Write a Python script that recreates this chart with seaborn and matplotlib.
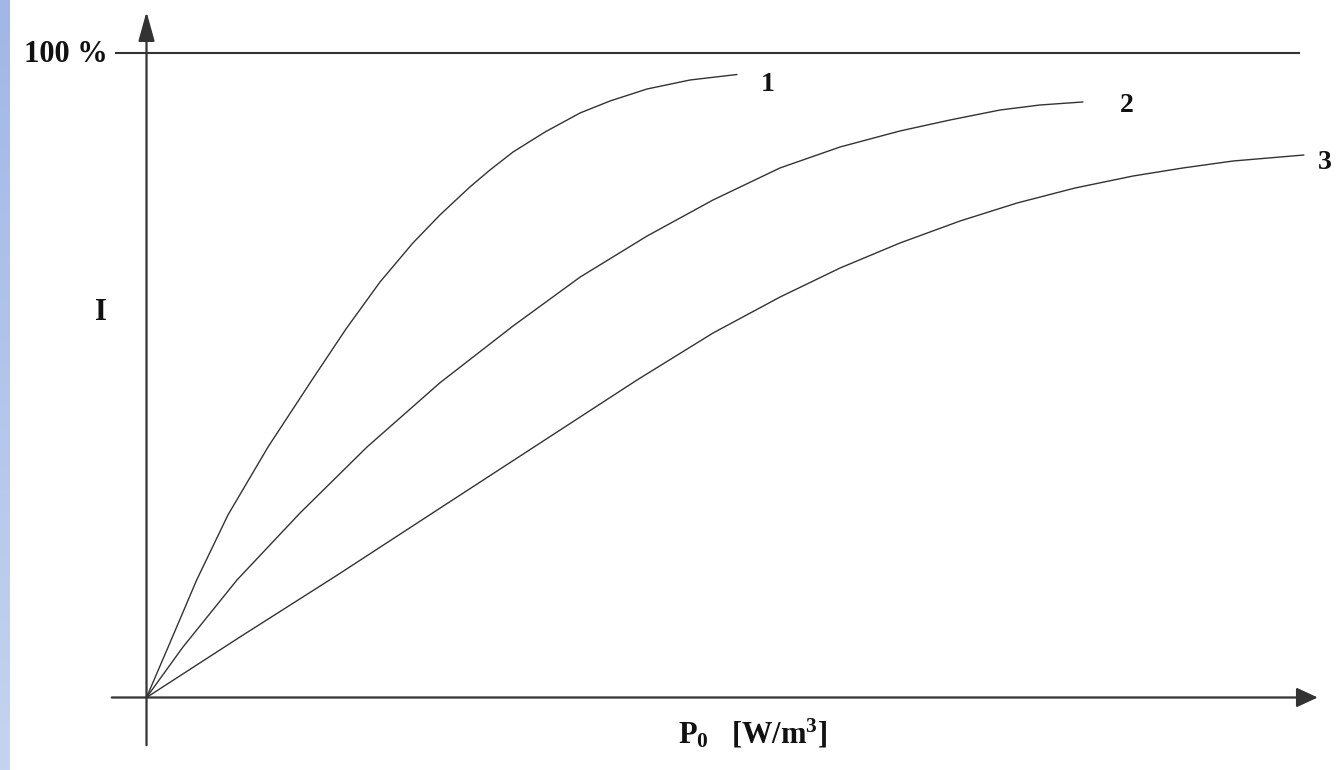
import numpy as np
import pandas as pd
import matplotlib
matplotlib.use("Agg")
import matplotlib.pyplot as plt
from matplotlib.colors import LinearSegmentedColormap
import seaborn as sns

# values (P0 in arbitrary units, I in % of max)
p0_curve1 = [0, 0.188, 0.433, 0.703, 1.049, 1.428, 1.722, 2.016, 2.300, 2.533, 2.792,
             2.965, 3.164, 3.440, 3.742, 4.001, 4.320, 4.692, 5.097]
i_curve1 = [0, 7.88, 18.23, 28.32, 38.87, 49.26, 57.18, 64.48, 70.53, 74.87, 79.22,
            81.85, 84.64, 87.74, 90.69, 92.55, 94.41, 95.81, 96.66]

p0_curve2 = [0, 0.315, 0.781, 1.325, 1.903, 2.533, 3.164, 3.742, 4.320, 4.890, 5.468,
             5.986, 6.504, 6.935, 7.367, 7.712, 8.083]
i_curve2 = [0, 7.84, 18.23, 28.62, 38.86, 48.83, 57.64, 65.22, 71.59, 77.19, 82.16,
            85.41, 87.90, 89.60, 91.15, 91.93, 92.40]

p0_curve3 = [0, 0.807, 1.645, 2.533, 3.396, 4.234, 4.890, 5.468, 5.986, 6.504, 7.022,
             7.514, 8.015, 8.515, 8.947, 9.379, 9.990]
i_curve3 = [0, 9.39, 18.97, 29.37, 39.46, 49.26, 56.55, 62.13, 66.63, 70.52, 73.93,
            76.72, 79.05, 80.91, 82.16, 83.24, 84.17]

curve_names = ["1", "2", "3"]
label_offsets = [(31, -10), (44, -4), (21, -7)]  # pixels from curve end

max_level = 100
ylabel = "I"
xlabel = r"$\mathrm{P}_\mathrm{0}$   [W/m$^\mathrm{3}$]"

sns.set_theme(style="white")
plt.rcParams["font.family"] = ["Liberation Serif", "DejaVu Serif"]
plt.rcParams["font.weight"] = "bold"
plt.rcParams["mathtext.fontset"] = "custom"
plt.rcParams["mathtext.rm"] = "Liberation Serif:bold"
plt.rcParams["mathtext.it"] = "Liberation Serif:bold"
plt.rcParams["mathtext.bf"] = "Liberation Serif:bold"

ink = "#333333"
txt = "#111111"

fig = plt.figure(figsize=(13.37, 7.7), dpi=100)
ax = fig.add_axes([0, 0, 1, 1])
ax.set_xlim(-1.2646, 10.276)
ax.set_ylim(-11.25, 108.22)
ax.axis("off")

# blue strip on the left edge
strip = fig.add_axes([0, 0, 10 / 1337, 1])
strip.imshow(np.linspace(0, 1, 256).reshape(-1, 1), aspect="auto",
             cmap=LinearSegmentedColormap.from_list("strip", ["#a0b7e7", "#c4d4f0"]))
strip.axis("off")

frames = []
for name, xs, ys in zip(curve_names, [p0_curve1, p0_curve2, p0_curve3],
                        [i_curve1, i_curve2, i_curve3]):
    frames.append(pd.DataFrame({"P0": xs, "I": ys, "curve": name}))
df = pd.concat(frames, ignore_index=True)

sns.lineplot(data=df, x="P0", y="I", units="curve", estimator=None, sort=False,
             color=ink, lw=1.0, ax=ax)

# curve numbers at the curve ends
for (name, grp), off in zip(df.groupby("curve", sort=False), label_offsets):
    last = grp.iloc[-1]
    ax.annotate(name, xy=(last["P0"], last["I"]), xytext=off, textcoords="offset pixels",
                ha="center", va="center", fontsize=20, fontweight="bold", color=txt)

# axes with arrows
ax.annotate("", xy=(0, 106.4), xytext=(0, -7.4),
            arrowprops=dict(arrowstyle="-|>,head_length=0.9,head_width=0.25",
                            mutation_scale=20, color=ink, lw=1.6, shrinkA=0, shrinkB=0))
ax.annotate("", xy=(10.11, 0), xytext=(-0.30, 0),
            arrowprops=dict(arrowstyle="-|>,head_length=0.65,head_width=0.3",
                            mutation_scale=20, color=ink, lw=1.6, shrinkA=0, shrinkB=0))

# 100 % level
ax.hlines(max_level, -0.271, 9.956, color=ink, lw=1.5)
ax.annotate("100 %", xy=(-0.271, max_level), xytext=(-7, -2), textcoords="offset pixels",
            ha="right", va="center", fontsize=22, fontweight="bold", color=txt)

ax.text(-0.393, 59.8, ylabel, ha="center", va="center", fontsize=22,
        fontweight="bold", color=txt)
ax.text(5.23, -5.6, xlabel, ha="center", va="center", fontsize=22,
        fontweight="bold", color=txt)

fig.savefig("out.png", dpi=100)
